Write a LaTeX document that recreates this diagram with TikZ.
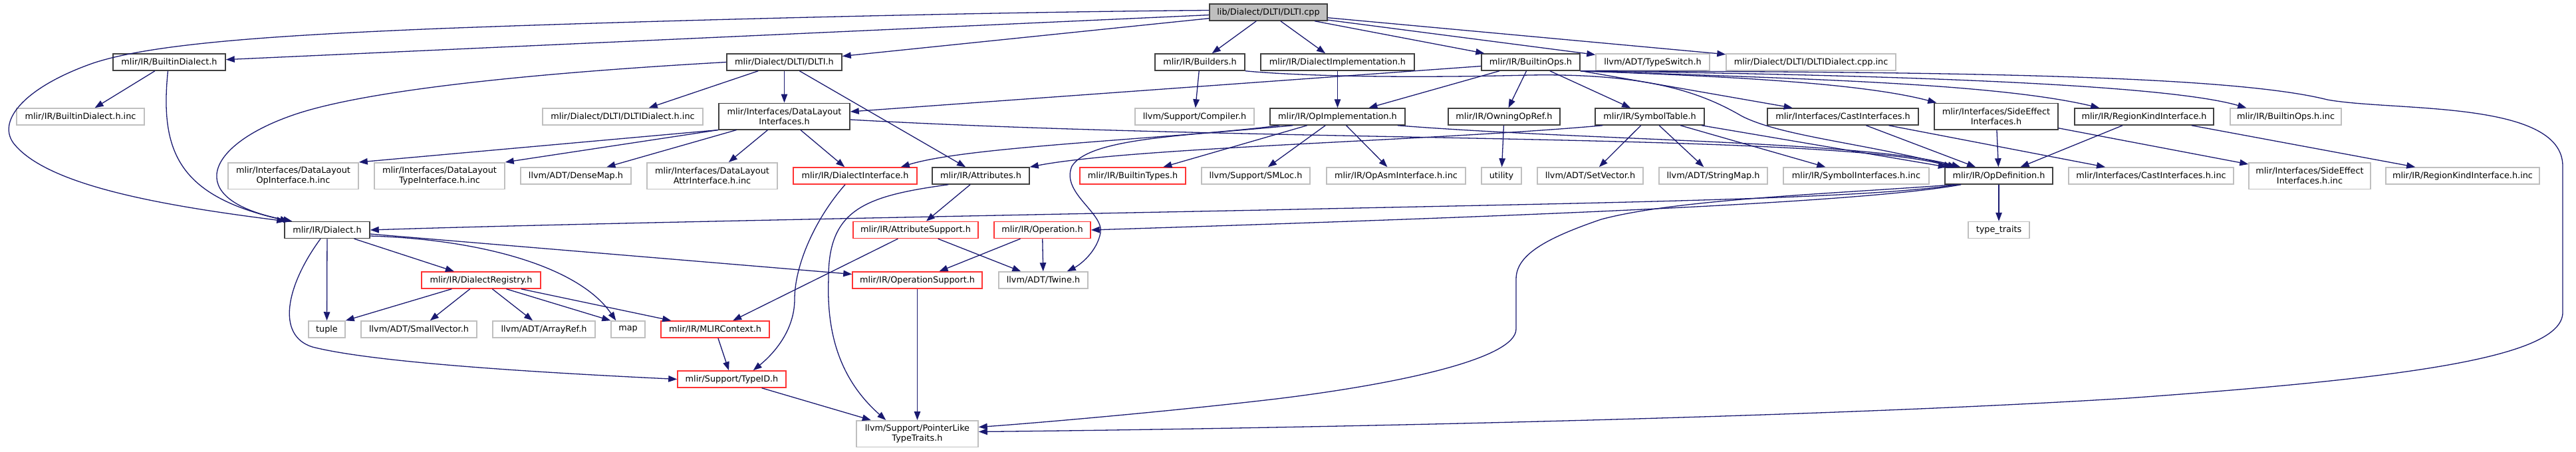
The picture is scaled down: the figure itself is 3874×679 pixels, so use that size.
\documentclass[tikz,border=0pt]{standalone}
\usepackage{fontspec}
\setmainfont{DejaVu Sans}
\usetikzlibrary{arrows.meta,calc}
\definecolor{edgeblue}{HTML}{191970}
\definecolor{docline}{HTML}{404040}
\definecolor{extline}{HTML}{BFBFBF}
\definecolor{cutline}{HTML}{FF3333}
\definecolor{rootfill}{HTML}{BFBFBF}

\begin{document}
\begin{tikzpicture}[
  x=0.2mm, y=-0.2mm,
  font=\fontsize{7.3}{8.5}\selectfont,
  file/.style={rectangle, draw=docline, fill=white, line width=0.3mm, inner sep=0pt,
               minimum height=5mm, align=center},
  ext/.style={file, draw=extline},
  cut/.style={file, draw=cutline},
  root/.style={file, fill=rootfill},
  wd/.style={minimum width=#1*0.2mm},
  tall/.style={minimum height=7.9mm},
  dep/.style={-{Triangle[length=2.6mm, width=1.9mm]}, line width=0.26mm, color=edgeblue},
]
\useasboundingbox (0,0) rectangle (3874,679);

% ---- row 0: the source file ----
\node[root, wd=177] (cpp) at (1907.5,18.5) {lib/Dialect/DLTI/DLTI.cpp};

% ---- row 1 ----
\node[file, wd=169] (bdial) at (254.5,93.5) {mlir/IR/BuiltinDialect.h};
\node[file, wd=173] (dlti) at (1179.5,93.5) {mlir/Dialect/DLTI/DLTI.h};
\node[file, wd=135] (builders) at (1804.5,93.5) {mlir/IR/Builders.h};
\node[file, wd=231] (dimpl) at (2011.5,93.5) {mlir/IR/DialectImplementation.h};
\node[file, wd=148] (bops) at (2302,93.5) {mlir/IR/BuiltinOps.h};
\node[ext, wd=171] (tswitch) at (2485.5,93.5) {llvm/ADT/TypeSwitch.h};
\node[ext, wd=255] (dcppinc) at (2723.5,93.5) {mlir/Dialect/DLTI/DLTIDialect.cpp.inc};

% ---- row 2 ----
\node[ext, wd=192] (bdialinc) at (121,175.5) {mlir/IR/BuiltinDialect.h.inc};
\node[ext, wd=241] (dltiinc) at (936.5,175.5) {mlir/Dialect/DLTI/DLTIDialect.h.inc};
\node[file, wd=197, tall] (dli) at (1179.5,175) {mlir/Interfaces/DataLayout\\Interfaces.h};
\node[ext, wd=179] (compiler) at (1796.5,175.5) {llvm/Support/Compiler.h};
\node[file, wd=203] (opimpl) at (2011.5,175.5) {mlir/IR/OpImplementation.h};
\node[file, wd=168] (owning) at (2262,175.5) {mlir/IR/OwningOpRef.h};
\node[file, wd=164] (symtab) at (2481,175.5) {mlir/IR/SymbolTable.h};
\node[file, wd=227] (castif) at (2771.5,175.5) {mlir/Interfaces/CastInterfaces.h};
\node[file, wd=186, tall] (seif) at (3002,175) {mlir/Interfaces/SideEffect\\Interfaces.h};
\node[file, wd=209] (rkif) at (3224.5,175.5) {mlir/IR/RegionKindInterface.h};
\node[ext, wd=167] (bopsinc) at (3437.5,175.5) {mlir/IR/BuiltinOps.h.inc};

% ---- row 3 ----
\node[ext, wd=196, tall] (opifinc) at (441,264.5) {mlir/Interfaces/DataLayout\\OpInterface.h.inc};
\node[ext, wd=196, tall] (tyifinc) at (661,264.5) {mlir/Interfaces/DataLayout\\TypeInterface.h.inc};
\node[ext, wd=166] (densemap) at (866,264.5) {llvm/ADT/DenseMap.h};
\node[ext, wd=196, tall] (attrifinc) at (1071,264.5) {mlir/Interfaces/DataLayout\\AttrInterface.h.inc};
\node[cut, wd=186] (dialif) at (1286,264.5) {mlir/IR/DialectInterface.h};
\node[file, wd=146] (attrs) at (1475,264.5) {mlir/IR/Attributes.h};
\node[cut, wd=159] (btypes) at (1703.5,264.5) {mlir/IR/BuiltinTypes.h};
\node[ext, wd=163] (smloc) at (1888.5,264.5) {llvm/Support/SMLoc.h};
\node[ext, wd=209] (opasminc) at (2099.5,264.5) {mlir/IR/OpAsmInterface.h.inc};
\node[ext, wd=60] (utility) at (2258,264.5) {utility};
\node[ext, wd=159] (setvec) at (2391.5,264.5) {llvm/ADT/SetVector.h};
\node[ext, wd=163] (strmap) at (2576.5,264.5) {llvm/ADT/StringMap.h};
\node[ext, wd=219] (syminc) at (2791.5,264.5) {mlir/IR/SymbolInterfaces.h.inc};
\node[file, wd=162] (opdef) at (3006,264.5) {mlir/IR/OpDefinition.h};
\node[ext, wd=248] (castinc) at (3235,264.5) {mlir/Interfaces/CastInterfaces.h.inc};
\node[ext, wd=183, tall] (seinc) at (3473.5,264.5) {mlir/Interfaces/SideEffect\\Interfaces.h.inc};
\node[ext, wd=231] (rkinc) at (3703.5,264.5) {mlir/IR/RegionKindInterface.h.inc};

% ---- rows 4 to 8 ----
\node[file, wd=128] (dialect) at (492,346) {mlir/IR/Dialect.h};
\node[cut, wd=188] (attrsup) at (1377,346) {mlir/IR/AttributeSupport.h};
\node[cut, wd=145] (operation) at (1567.5,346) {mlir/IR/Operation.h};
\node[ext, wd=92] (ttraits) at (3006,346) {type\_traits};
\node[cut, wd=179] (dreg) at (723.5,421.5) {mlir/IR/DialectRegistry.h};
\node[cut, wd=195] (opsup) at (1379.5,421.5) {mlir/IR/OperationSupport.h};
\node[ext, wd=134] (twine) at (1569,421.5) {llvm/ADT/Twine.h};
\node[ext, wd=55] (tuple) at (491.5,495.5) {tuple};
\node[ext, wd=174] (smallvec) at (630,495.5) {llvm/ADT/SmallVector.h};
\node[ext, wd=154] (arrayref) at (818,495.5) {llvm/ADT/ArrayRef.h};
\node[ext, wd=51] (map) at (944.5,495.5) {map};
\node[cut, wd=163] (mlirctx) at (1075.5,495.5) {mlir/IR/MLIRContext.h};
\node[cut, wd=163] (typeid) at (1100.5,570.5) {mlir/Support/TypeID.h};
\node[ext, wd=183, tall] (ptrlike) at (1379.5,652.5) {llvm/Support/PointerLike\\TypeTraits.h};

% ---- includes of DLTI.cpp ----
\draw[dep] (cpp) -- (bdial);
\draw[dep] ($(cpp.west)+(0,-3)$) .. controls (1500,18) and (1000,30) .. (660,43)
  .. controls (420,53) and (230,65) .. (140,95) .. controls (40,130) and (-5,180) .. (20,215)
  .. controls (70,280) and (250,310) .. ($(dialect.north west)+(2,0)$);
\draw[dep] (cpp) -- (dlti);
\draw[dep] (cpp) -- (builders);
\draw[dep] (cpp) -- (dimpl);
\draw[dep] (cpp) -- (bops);
\draw[dep] (cpp) -- (tswitch);
\draw[dep] (cpp) -- (dcppinc);

% ---- BuiltinDialect.h and DLTI.h ----
\draw[dep] (bdial) -- (bdialinc);
\draw[dep] ($(bdial.south)+(-2,0)$) .. controls (240,230) and (270,295) .. ($(dialect.north west)+(7,0)$);
\draw[dep] (dlti) -- (dltiinc);
\draw[dep] (dlti) -- (dli);
\draw[dep] (dlti) -- (attrs);
\draw[dep] (dlti.west) .. controls (800,110) and (560,135) .. (450,170)
  .. controls (310,215) and (270,300) .. ($(dialect.north west)+(12,0)$);

% ---- DataLayoutInterfaces.h ----
\draw[dep] (dli.south west) -- (opifinc.north east);
\draw[dep] (dli.south west) -- (tyifinc.north east);
\draw[dep] (dli) -- (densemap);
\draw[dep] (dli) -- (attrifinc);
\draw[dep] (dli) -- (dialif);
\draw[dep] ($(dli.east)+(0,5)$) .. controls (1900,215) and (2750,200) .. ($(opdef.north west)+(12,0)$);

% ---- BuiltinOps.h ----
\draw[dep] ($(bops.west)+(0,6)$) -- ($(dli.east)+(0,-7)$);
\draw[dep] (bops) -- (opimpl);
\draw[dep] (bops) -- (owning);
\draw[dep] (bops) -- (symtab);
\draw[dep] (bops) -- (castif);
\draw[dep] (bops.south east) .. controls (2600,115) and (2800,125) .. ($(seif.north west)+(4,0)$);
\draw[dep] (bops.south east) .. controls (2700,118) and (3000,125) .. ($(rkif.north west)+(38,0)$);
\draw[dep] (bops.south east) .. controls (2800,112) and (3250,125) .. ($(bopsinc.north west)+(25,0)$);
\draw[dep] (bops.south east) .. controls (2900,108) and (3350,112) .. (3500,150)
  .. controls (3600,168) and (3854,150) .. (3854,250) -- (3854,470)
  .. controls (3854,540) and (3600,570) .. (3200,599)
  .. controls (2700,630) and (1900,645) .. ($(ptrlike.east)+(0,-3)$);

% ---- Builders.h, DialectImplementation.h, OpImplementation.h ----
\draw[dep] (builders) -- (compiler);
\draw[dep] (builders.south east) .. controls (1950,114) and (2100,118) .. (2300,113)
  .. controls (2480,110) and (2560,140) .. (2620,175)
  .. controls (2680,205) and (2800,215) .. ($(opdef.north west)+(18,0)$);
\draw[dep] (dimpl) -- (opimpl);
\draw[dep] ($(opimpl.south west)+(35,0)$) .. controls (1700,212) and (1450,222) .. ($(dialif.north east)+(-25,0)$);
\draw[dep] (opimpl) -- (btypes);
\draw[dep] (opimpl) -- (smloc);
\draw[dep] (opimpl) -- (opasminc);
\draw[dep] ($(opimpl.south east)+(-12,0)$) .. controls (2400,212) and (2800,212) .. ($(opdef.north west)+(24,0)$);
\draw[dep] ($(opimpl.south west)+(15,0)$) .. controls (1800,205) and (1640,205) .. (1612,250)
  .. controls (1595,290) and (1660,320) .. (1655,350)
  .. controls (1650,378) and (1625,398) .. ($(twine.north east)+(-32,0)$);

% ---- OwningOpRef.h and SymbolTable.h ----
\draw[dep] (owning) -- (utility);
\draw[dep] ($(symtab.south west)+(12,0)$) .. controls (2150,212) and (1700,222) .. (attrs.north east);
\draw[dep] (symtab) -- (setvec);
\draw[dep] (symtab) -- (strmap);
\draw[dep] (symtab) -- (syminc);
\draw[dep] (symtab) -- (opdef);

% ---- interface headers ----
\draw[dep] (castif) -- (opdef);
\draw[dep] (castif) -- (castinc);
\draw[dep] (seif) -- (opdef);
\draw[dep] (seif) -- (seinc);
\draw[dep] (rkif) -- (opdef);
\draw[dep] (rkif) -- (rkinc);

% ---- OpDefinition.h ----
\draw[dep] (opdef) -- (ttraits);
\draw[dep] ($(opdef.south west)+(20,0)$) .. controls (2800,300) and (2400,305) .. (1900,316)
  .. controls (1300,328) and (800,338) .. (dialect.east);
\draw[dep] ($(opdef.south west)+(25,0)$) .. controls (2800,305) and (2300,325) .. (operation.east);
\draw[dep] ($(opdef.south west)+(15,0)$) .. controls (2750,292) and (2520,300) .. (2408,330)
  .. controls (2320,360) and (2280,385) .. (2280,420) -- (2280,495)
  .. controls (2280,540) and (2100,578) .. (1920,600)
  .. controls (1750,620) and (1550,637) .. ($(ptrlike.east)+(0,-10)$);

% ---- Dialect.h and DialectRegistry.h ----
\draw[dep] (dialect) -- (dreg);
\draw[dep] (dialect) -- (tuple);
\draw[dep] ($(dialect.east)+(0,9)$) .. controls (720,360) and (870,400) .. ($(map.north west)+(8,0)$);
\draw[dep] ($(dialect.east)+(0,6)$) -- ($(opsup.west)+(0,-9)$);
\draw[dep] ($(dialect.south)+(-10,0)$) .. controls (430,430) and (415,505) .. (470,522)
  .. controls (560,545) and (800,560) .. (typeid.west);
\draw[dep] ($(dreg.south west)+(46,0)$) -- (tuple.north east);
\draw[dep] (dreg) -- (smallvec);
\draw[dep] (dreg) -- (arrayref);
\draw[dep] ($(dreg.south)+(38,0)$) -- (map.north west);
\draw[dep] ($(dreg.south east)+(-30,0)$) -- ($(mlirctx.north west)+(16,0)$);

% ---- lower headers ----
\draw[dep] (mlirctx) -- (typeid);
\draw[dep] (typeid) -- (ptrlike);
\draw[dep] ($(dialif.south)+(-15,0)$) .. controls (1225,330) and (1195,400) .. (1195,450)
  .. controls (1195,500) and (1160,535) .. ($(typeid.north east)+(-50,0)$);
\draw[dep] (attrs) -- (attrsup);
\draw[dep] ($(attrs.south west)+(25,0)$) .. controls (1300,295) and (1245,315) .. (1246,420)
  .. controls (1243,500) and (1262,570) .. ($(ptrlike.north west)+(45,0)$);
\draw[dep] (attrsup) -- (mlirctx);
\draw[dep] (attrsup) -- (twine);
\draw[dep] (operation) -- (opsup);
\draw[dep] (operation) -- (twine);
\draw[dep] (opsup) -- (ptrlike);
\end{tikzpicture}
\end{document}
